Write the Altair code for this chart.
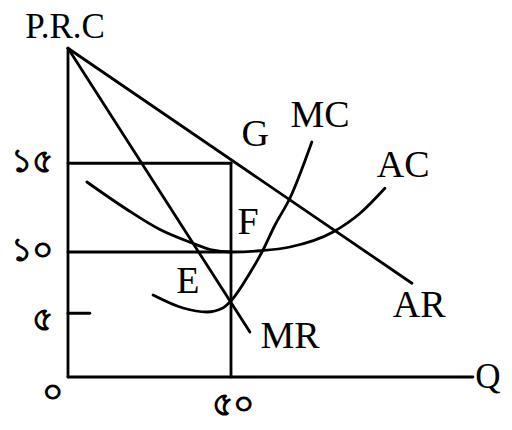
import altair as alt
import pandas as pd

# ---- data (drawing units: x = quantity units, y = price/revenue/cost units) ----
# straight lines
ar_x = [0.0, 105.5]
ar_y = [26.3, 7.5]
mr_x = [0.0, 55.8]
mr_y = [26.3, 3.6]

# curves
ac_x = [5.8, 18.1, 28.2, 38.3, 43.6, 50.3, 58.9, 68.1, 81.3, 89.6, 97.2]
ac_y = [15.6, 13.4, 11.8, 10.7, 10.2, 10.0, 10.1, 10.4, 11.6, 13.1, 15.1]
mc_x = [26.1, 35.3, 42.6, 47.5, 49.7, 55.8, 59.5, 63.5, 68.1, 74.8]
mc_y = [6.56, 5.52, 5.2, 5.52, 6.0, 8.32, 10.0, 12.16, 14.32, 18.8]

# key values
q_eq = 50.0        # equilibrium output
p_eq = 17.1        # price at G
ac_eq = 10.0       # average cost at F
tick_low = 5.1     # small tick on price axis
y_axis_top = 26.3
x_axis_end = 124.2

# text labels
curve_labels = ["G", "MC", "AC", "F", "E", "MR", "AR"]
curve_lab_x = [57.4, 77.3, 102.8, 55.2, 36.8, 68.1, 107.7]
curve_lab_y = [19.4, 20.9, 16.9, 12.3, 7.6, 3.2, 5.7]
axis_labels = ["P.R.C", "Q"]
axis_lab_x = [-0.9, 128.8]
axis_lab_y = [28.0, 0.0]
tick_labels = ["১৫", "১০", "৫", "০", "৫০"]
tick_lab_x = [-10.9, -10.9, -7.7, -4.9, 50.6]
tick_lab_y = [17.2, 10.1, 4.6, -1.3, -2.2]

# ---- build tables ----
segments = pd.DataFrame({
    "x":  [0.0, 0.0, ar_x[0], mr_x[0], 0.0, 0.0, q_eq, 0.0],
    "y":  [0.0, 0.0, ar_y[0], mr_y[0], p_eq, ac_eq, 0.0, tick_low],
    "x2": [0.0, x_axis_end, ar_x[1], mr_x[1], q_eq, q_eq, q_eq, 6.7],
    "y2": [y_axis_top, 0.0, ar_y[1], mr_y[1], p_eq, ac_eq, p_eq, tick_low],
})
curves = pd.concat([
    pd.DataFrame({"x": ac_x, "y": ac_y, "c": "AC"}),
    pd.DataFrame({"x": mc_x, "y": mc_y, "c": "MC"}),
])
labels = pd.DataFrame({"x": curve_lab_x, "y": curve_lab_y, "t": curve_labels})
alabels = pd.DataFrame({"x": axis_lab_x, "y": axis_lab_y, "t": axis_labels})
ticks = pd.DataFrame({"x": tick_lab_x, "y": tick_lab_y, "t": tick_labels})

xs = alt.Scale(domain=[-18.4, 133.74], nice=False, zero=False)
ys = alt.Scale(domain=[-3.6, 29.52], nice=False, zero=False)
X = alt.X("x:Q", scale=xs, axis=None)
Y = alt.Y("y:Q", scale=ys, axis=None)

seg = alt.Chart(segments).mark_rule(color="black", strokeWidth=2.8, strokeCap="round").encode(
    x=X, y=Y, x2="x2:Q", y2="y2:Q",
)
crv = alt.Chart(curves).mark_line(color="black", strokeWidth=2.8, interpolate="monotone",
                                  strokeCap="round").encode(x=X, y=Y, detail="c:N")
lab = alt.Chart(labels).mark_text(font="Liberation Serif", fontSize=38, color="black",
                                  align="center", baseline="middle").encode(x=X, y=Y, text="t:N")
alab = alt.Chart(alabels).mark_text(font="Liberation Serif", fontSize=35, color="black",
                                    align="center", baseline="middle").encode(x=X, y=Y, text="t:N")
tck = alt.Chart(ticks).mark_text(font="Liberation Serif", fontSize=33, fontWeight="bold",
                                 color="black", align="center", baseline="middle").encode(
    x=X, y=Y, text="t:N")

chart = alt.layer(seg, crv, lab, alab, tck).properties(
    width=496, height=414,
    autosize=alt.AutoSizeParams(type="none"),
    padding=0,
).configure_view(stroke=None)

chart.save("out.html", embed_options={"renderer": "svg", "actions": False})
